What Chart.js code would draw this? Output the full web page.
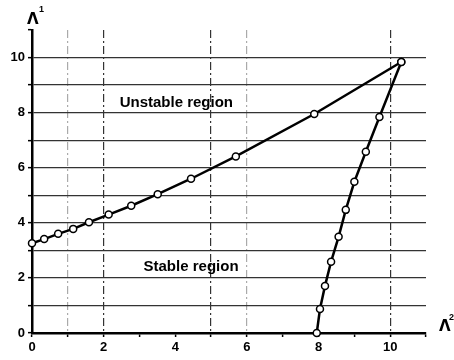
<!DOCTYPE html>
<html>
<head>
<meta charset="utf-8">
<script src="https://cdn.jsdelivr.net/npm/chart.js@4"></script>
<style>
  html, body { margin: 0; padding: 0; background: #fff; }
  #wrap { width: 454px; height: 360px; position: relative; }
</style>
</head>
<body>
<div id="wrap"><canvas id="chart"></canvas></div>
<script>
// upper branch (boundary from the Λ1 axis to the corner)
const upperX = [0, 0.34, 0.73, 1.15, 1.59, 2.14, 2.77, 3.51, 4.44, 5.69, 7.88, 10.31];
const upperY = [3.26, 3.41, 3.6, 3.78, 4.02, 4.30, 4.62, 5.04, 5.6, 6.41, 7.95, 9.84];
// lower branch (from the Λ2 axis up to the corner)
const lowerX = [7.95, 8.04, 8.18, 8.35, 8.56, 8.76, 9.0, 9.32, 9.70, 10.31];
const lowerY = [0, 0.87, 1.71, 2.59, 3.49, 4.47, 5.49, 6.58, 7.84, 9.84];

const xTickLabels = [0, 2, 4, 6, 8, 10];
const yTickLabels = [0, 2, 4, 6, 8, 10];
const xDarkLines = [2, 5, 10];
const xFaintLines = [1, 6];

const regionLabels = [
    { text: 'Unstable region', x: 4.03, y: 8.35 },
    { text: 'Stable region', x: 4.44, y: 2.4 }
];

const FONT = '"Liberation Sans", Arial, sans-serif';

const toPoints = (xs, ys) => xs.map((x, i) => ({ x: x, y: ys[i] }));

const textPlugin = {
    id: 'texts',
    afterDatasetsDraw(chart) {
        const { ctx, scales: { x, y } } = chart;
        ctx.save();
        ctx.fillStyle = '#000';
        ctx.font = 'bold 15px ' + FONT;
        ctx.textAlign = 'center';
        ctx.textBaseline = 'middle';
        regionLabels.forEach(r => {
            ctx.fillText(r.text, x.getPixelForValue(r.x), y.getPixelForValue(r.y));
        });
        // axis titles
        ctx.textAlign = 'left';
        ctx.textBaseline = 'alphabetic';
        ctx.font = 'bold 15px "DejaVu Sans", sans-serif';
        ctx.fillText('Λ', 27, 24);
        ctx.fillText('Λ', 439, 331);
        ctx.font = 'bold 9px ' + FONT;
        ctx.fillText('1', 39, 12);
        ctx.fillText('2', 449, 320);
        ctx.restore();
    }
};

new Chart(document.getElementById('chart'), {
    type: 'scatter',
    data: {
        datasets: [
            { data: toPoints(upperX, upperY) },
            { data: toPoints(lowerX, lowerY) }
        ]
    },
    options: {
        responsive: true,
        maintainAspectRatio: false,
        animation: false,
        layout: { padding: { top: 30, right: 28, left: 0, bottom: 0 } },
        plugins: { legend: { display: false }, tooltip: { enabled: false } },
        elements: {
            line: { borderColor: '#000', borderWidth: 2.5, tension: 0 },
            point: { radius: 3.5, borderWidth: 1.5, borderColor: '#000', backgroundColor: '#fff' }
        },
        datasets: { scatter: { showLine: true, clip: false } },
        scales: {
            x: {
                type: 'linear',
                min: 0, max: 11,
                afterFit: s => { s.height = 27; },
                border: { color: '#000', width: 2.5, dash: [8, 3, 2, 3] },
                grid: {
                    color: c => xDarkLines.includes(c.tick.value) ? '#333'
                        : (xFaintLines.includes(c.tick.value) ? '#aaa' : 'rgba(0,0,0,0)'),
                    lineWidth: 1.2,
                    tickColor: '#000',
                    tickLength: 4,
                    tickWidth: 1.5
                },
                ticks: {
                    stepSize: 1,
                    color: '#000',
                    padding: 3,
                    maxRotation: 0,
                    autoSkip: false,
                    font: { family: FONT, size: 13, weight: 'bold' },
                    callback: v => xTickLabels.includes(v) ? String(v) : ''
                }
            },
            y: {
                type: 'linear',
                min: 0, max: 11,
                afterFit: s => { s.width = 32; },
                border: { color: '#000', width: 2.5 },
                grid: {
                    color: c => (c.tick.value > 0 && c.tick.value < 11) ? '#333' : 'rgba(0,0,0,0)',
                    lineWidth: 1.3,
                    tickColor: '#000',
                    tickLength: 4,
                    tickWidth: 1.5
                },
                ticks: {
                    stepSize: 1,
                    color: '#000',
                    padding: 3,
                    autoSkip: false,
                    font: { family: FONT, size: 13, weight: 'bold' },
                    callback: v => yTickLabels.includes(v) ? String(v) : ''
                }
            }
        }
    },
    plugins: [textPlugin]
});
</script>
</body>
</html>
